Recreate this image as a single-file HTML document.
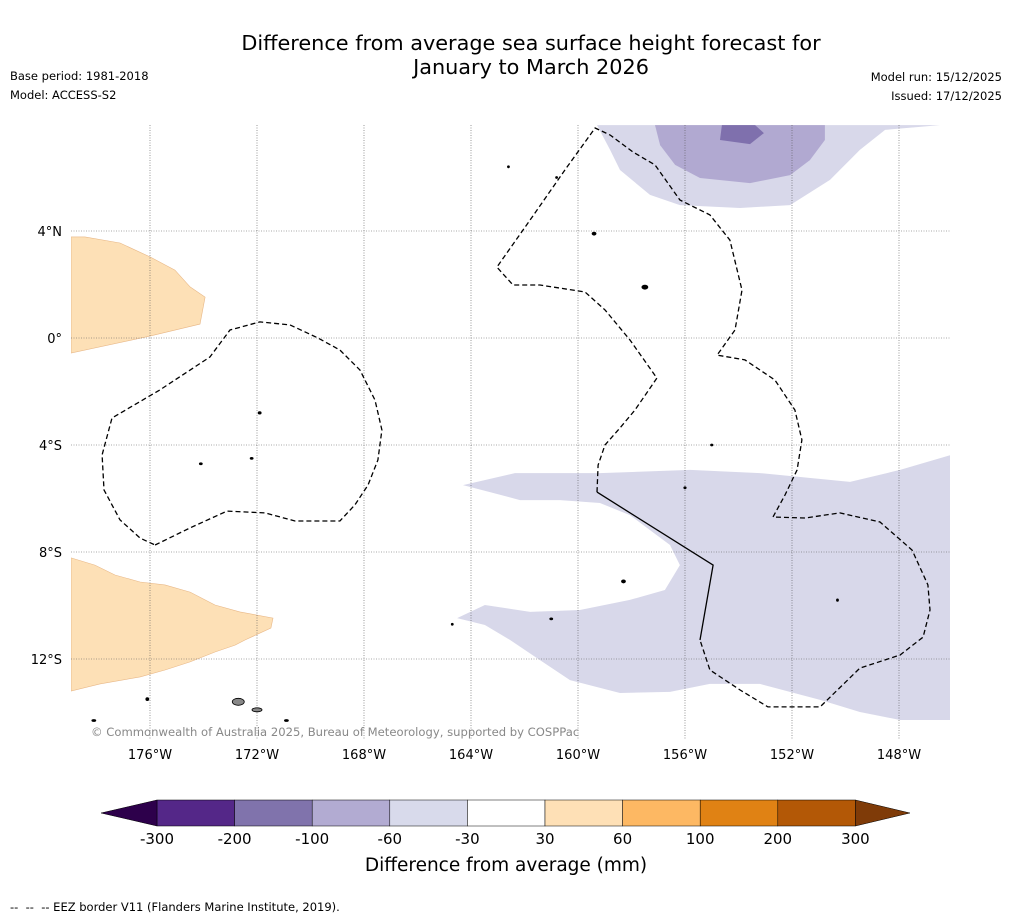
<!DOCTYPE html>
<html><head><meta charset="utf-8"><style>
body{margin:0;background:#fff;font-family:"DejaVu Sans","Liberation Sans",sans-serif}
#wrap{position:relative;width:1011px;height:919px;overflow:hidden}
.t{position:absolute;white-space:nowrap}
</style></head><body>
<div id="wrap">
<div class="t" style="left:0;width:1062px;top:31px;text-align:center;font-size:20.8px;line-height:24px;color:#000">Difference from average sea surface height forecast for<br>January to March 2026</div>
<div class="t" style="left:10px;top:69px;font-size:11.5px">Base period: 1981-2018</div>
<div class="t" style="left:10px;top:88px;font-size:11.5px">Model: ACCESS-S2</div>
<div class="t" style="right:9px;top:70px;font-size:11.5px">Model run: 15/12/2025</div>
<div class="t" style="right:9px;top:89px;font-size:11.5px">Issued: 17/12/2025</div>
<div class="t" style="left:10px;top:900px;font-size:11.5px">--&nbsp; --&nbsp; -- EEZ border V11 (Flanders Marine Institute, 2019).</div>
<svg id="svg" width="1011" height="919" style="position:absolute;left:0;top:0"></svg>
</div>
<script>
const lonTicks=[-176,-172,-168,-164,-160,-156,-152,-148];
const latTicks=[4,0,-4,-8,-12];
const cbBounds=["-300","-200","-100","-60","-30","30","60","100","200","300"];
const cbColors=["#542788","#8073ac","#b2abd2","#d8daeb","#ffffff","#fee0b6","#fdb863","#e08214","#b35806"];
const orangeNW=[[-178.95,3.78],[-178.43,3.78],[-177.12,3.55],[-176,3.03],[-175.07,2.54],[-174.5,1.91],[-173.94,1.53],[-174.13,0.52],[-176,0.07],[-178.95,-0.56]];
const orangeSW=[[-178.95,-8.22],[-178.06,-8.49],[-177.31,-8.86],[-176.37,-9.12],[-175.44,-9.23],[-174.5,-9.5],[-173.57,-9.98],[-172.64,-10.24],[-171.4,-10.47],[-171.48,-10.84],[-172.45,-11.29],[-172.82,-11.48],[-173.57,-11.74],[-174.5,-12.11],[-175.44,-12.41],[-176.37,-12.67],[-177.87,-12.93],[-178.95,-13.2]];
const purpleLightN=[[-159.29,7.96],[-158.8,7.03],[-158.43,6.28],[-157.31,5.35],[-156.19,4.97],[-153.94,4.86],[-152.07,4.97],[-150.58,5.91],[-149.46,7.03],[-148.52,7.78],[-146.47,7.96]];
const purpleMidN=[[-157.12,7.96],[-156.93,7.21],[-156.37,6.47],[-155.44,5.98],[-153.57,5.79],[-152.07,6.09],[-151.33,6.65],[-150.77,7.4],[-150.77,7.96]];
const purpleDarkN=[[-154.62,7.96],[-154.69,7.4],[-153.57,7.25],[-153.05,7.66],[-153.38,7.96]];
const purpleLightS=[[-164.3,-5.5],[-162.36,-5.05],[-159.18,-5.05],[-155.81,-4.93],[-153.2,-5.05],[-149.83,-5.38],[-147.96,-4.93],[-146.05,-4.37],[-146.05,-14.28],[-147.96,-14.28],[-149.46,-13.98],[-150.95,-13.53],[-153.2,-12.93],[-155.07,-12.93],[-156.56,-13.23],[-158.43,-13.27],[-160.3,-12.79],[-161.42,-12.04],[-162.54,-11.29],[-163.48,-10.73],[-164.52,-10.47],[-163.48,-9.98],[-161.79,-10.24],[-159.93,-10.17],[-158.06,-9.79],[-156.75,-9.42],[-156.19,-8.49],[-156.56,-7.74],[-157.31,-7.18],[-158.06,-6.62],[-159.18,-6.17],[-160.67,-6.06],[-162.17,-6.06],[-163.29,-5.76]];
const eezWest=[[-175.81,-7.74],[-174.5,-7.1],[-173.12,-6.47],[-171.7,-6.54],[-170.58,-6.84],[-168.9,-6.84],[-168.34,-6.24],[-167.85,-5.5],[-167.48,-4.56],[-167.33,-3.44],[-167.59,-2.32],[-168.15,-1.2],[-168.9,-0.45],[-169.72,0],[-170.77,0.49],[-171.89,0.6],[-173.01,0.3],[-173.76,-0.71],[-175.63,-1.94],[-177.42,-2.99],[-177.79,-4.37],[-177.72,-5.68],[-177.12,-6.8],[-176.37,-7.48],[-175.81,-7.74]];
const eezEast=[[-159.29,-5.76],[-159.25,-4.75],[-158.99,-4],[-158.43,-3.36],[-157.87,-2.69],[-157.05,-1.5],[-158.06,-0.07],[-158.99,1.05],[-159.74,1.72],[-161.42,1.98],[-162.43,1.98],[-163.03,2.65],[-161.79,4.41],[-160.49,6.28],[-159.36,7.85],[-158.8,7.59],[-157.94,6.95],[-157.12,6.47],[-156.19,5.16],[-155.07,4.6],[-154.32,3.66],[-153.87,1.79],[-154.13,0.3],[-154.8,-0.64],[-153.76,-0.82],[-152.64,-1.57],[-151.89,-2.69],[-151.63,-3.81],[-151.81,-4.93],[-152.26,-5.87],[-152.71,-6.69],[-151.51,-6.73],[-150.21,-6.54],[-148.71,-6.88],[-147.51,-7.93],[-146.92,-9.23],[-146.84,-10.17],[-147.1,-11.18],[-147.96,-11.85],[-149.46,-12.34],[-150.95,-13.79],[-152.9,-13.79],[-153.94,-13.16],[-155.07,-12.41],[-155.44,-11.29]];
const eezSolid=[[-159.29,-5.76],[-154.95,-8.49],[-155.44,-11.29]];
const islands=[[-172.7,-13.6,6,3.5],[-172,-13.9,5,2],[-174.1,-4.7,1.5,1],[-172.2,-4.5,1.5,1],[-171.9,-2.8,1.5,1.2],[-157.5,1.9,3,2],[-159.4,3.9,2,1.5],[-158.3,-9.1,2,1.5],[-178.1,-14.3,2,1],[-176.1,-13.5,1.5,1.5],[-170.9,-14.3,2,1],[-161,-10.5,1.5,1],[-164.7,-10.7,1,1],[-160.8,6.0,1,1],[-162.6,6.4,1,1],[-155,-4,1.2,1],[-156,-5.6,1.2,1],[-150.3,-9.8,1,1.2]];
const X=lon=>150+(lon+176)*26.75, Y=lat=>338-lat*26.75;
const NS='http://www.w3.org/2000/svg', svg=document.getElementById('svg');
const FF='DejaVu Sans, Liberation Sans, sans-serif';
function mk(tag,at,parent){const e=document.createElementNS(NS,tag);for(const k in at)e.setAttribute(k,at[k]);(parent||svg).appendChild(e);return e;}
const pts=a=>a.map(p=>X(p[0]).toFixed(1)+','+Y(p[1]).toFixed(1)).join(' ');
mk('defs',{}).innerHTML='<clipPath id="clip"><rect x="71" y="125" width="879" height="615"/></clipPath>';
const g=mk('g',{'clip-path':'url(#clip)'});


function poly(a,fill,name,stroke){const e=mk('polygon',{points:pts(a),fill:fill,stroke:stroke||'none','stroke-width':0.6},g);

}
poly(orangeNW,'#fde0b6','anomaly-positive-nw','#e8b888');
poly(orangeSW,'#fde0b6','anomaly-positive-sw','#e8b888');
poly(purpleLightN,'#d8d8ea','anomaly-negative-north');
poly(purpleMidN,'#b1a9d1','anomaly-negative-north-mid');
poly(purpleDarkN,'#7f70ad','anomaly-negative-north-core');
poly(purpleLightS,'#d8d8ea','anomaly-negative-south');
lonTicks.forEach(l=>{const e=mk('line',{x1:X(l),x2:X(l),y1:125,y2:740,stroke:'#555','stroke-width':0.6,'stroke-dasharray':'1,1.5'},g);

});
latTicks.forEach(l=>{const e=mk('line',{x1:71,x2:950,y1:Y(l),y2:Y(l),stroke:'#555','stroke-width':0.6,'stroke-dasharray':'1,1.5'},g);

});
[[eezWest,'eez-border-west'],[eezEast,'eez-border-east']].forEach(([a,n])=>{const e=mk('polyline',{points:pts(a),fill:'none',stroke:'#000','stroke-width':1.3,'stroke-dasharray':'5,3'},g);

});
{const e=mk('polyline',{points:pts(eezSolid),fill:'none',stroke:'#000','stroke-width':1.3},g);

}
islands.forEach(i=>{const e=mk('ellipse',{cx:X(i[0]),cy:Y(i[1]),rx:i[2],ry:i[3],fill:i[2]>4?'#888':'#000',stroke:'#000','stroke-width':0.8},g);

});
const txt=(x,y,s,size,anchor,name,fill)=>{const e=mk('text',{x:x,y:y,'font-size':size,'text-anchor':anchor,fill:fill||'#000','font-family':FF});e.textContent=s;

return e;};
txt(91,736,'© Commonwealth of Australia 2025, Bureau of Meteorology, supported by COSPPac',11.6,'start','copyright','#888');
lonTicks.forEach(l=>txt(X(l),759,Math.abs(l)+'°W',13,'middle','lon-tick-label'));
latTicks.forEach(l=>txt(62,Y(l)+5,l===0?'0°':Math.abs(l)+'°'+(l>0?'N':'S'),13,'end','lat-tick-label'));
const cb0=157,cbw=77.6,cy0=800,ch=26;
cbColors.forEach((c,i)=>{const e=mk('rect',{x:cb0+i*cbw,y:cy0,width:cbw,height:ch,fill:c,stroke:'#000','stroke-width':0.5});

});
{const e=mk('polygon',{points:`${cb0},${cy0} ${cb0},${cy0+ch} 101,${cy0+ch/2}`,fill:'#2d004b',stroke:'#000','stroke-width':0.5});

}
{const xe=cb0+cbColors.length*cbw;const e=mk('polygon',{points:`${xe},${cy0} ${xe},${cy0+ch} 910,${cy0+ch/2}`,fill:'#7f3b08',stroke:'#000','stroke-width':0.5});

}
cbBounds.forEach((b,i)=>txt(cb0+i*cbw,844,b,15,'middle','colorbar-tick-label'));
txt(506,871,'Difference from average (mm)',18.5,'middle','colorbar-title');
</script>
</body></html>
